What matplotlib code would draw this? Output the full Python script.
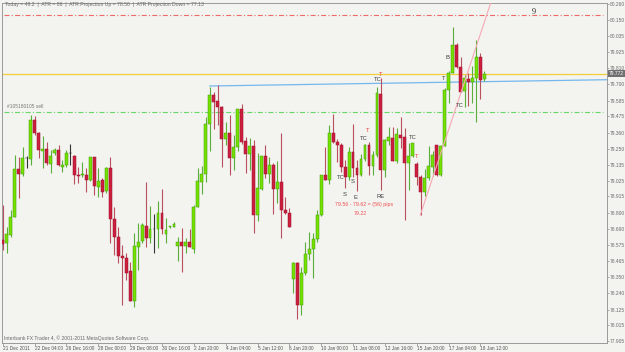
import matplotlib
matplotlib.use("Agg")
import matplotlib.pyplot as plt
from matplotlib.transforms import blended_transform_factory

# H4 candles (price units)
OPEN = [
    78.611, 78.590, 78.646, 78.772, 79.107, 79.072, 79.183, 79.176, 79.449, 79.358,
    79.232, 79.246, 79.141, 79.218, 79.239, 79.121, 79.135, 79.218, 79.197, 79.065,
    79.065, 79.065, 79.030, 79.190, 78.981, 79.030, 78.953, 79.114, 78.758, 78.632,
    78.499, 78.485, 78.394, 78.185, 78.562, 78.604, 78.709, 78.625, 78.688, 78.688,
    78.800, 78.653, 78.702, 78.702, 78.569, 78.597, 78.569, 78.597, 78.548, 78.841,
    79.016, 79.072, 79.421, 79.624, 79.582, 79.540, 79.316, 79.358, 79.183, 79.260,
    79.526, 79.302, 79.211, 79.267, 78.786, 78.967, 79.197, 79.072, 79.135, 78.967,
    79.016, 78.820, 78.800, 78.338, 78.450, 78.157, 78.380, 78.513, 78.548, 78.618,
    78.786, 79.065, 79.030, 79.358, 79.295, 79.274, 79.121, 79.051, 79.225, 79.114,
    79.065, 79.176, 79.274, 79.128, 79.204, 79.631, 79.100, 79.302, 79.323, 79.162,
    79.344, 79.330, 79.148, 79.197, 79.141, 79.051, 78.946, 79.044, 79.121, 79.274,
    79.065, 79.267, 79.659, 79.778, 79.974, 79.820, 79.652, 79.736, 79.715, 79.743,
    79.890, 79.736,
]
HIGH = [
    78.855, 78.702, 78.820, 79.204, 79.190, 79.260, 79.197, 79.484, 79.477, 79.365,
    79.337, 79.295, 79.239, 79.253, 79.274, 79.169, 79.239, 79.281, 79.204, 79.121,
    79.155, 79.114, 79.190, 79.190, 79.114, 79.044, 79.121, 79.190, 78.841, 78.702,
    78.576, 78.520, 78.457, 78.660, 78.730, 78.730, 79.016, 78.848, 78.793, 78.883,
    78.967, 78.765, 78.712, 78.737, 78.632, 78.695, 78.625, 78.688, 78.855, 79.114,
    79.128, 79.470, 79.680, 79.645, 79.694, 79.547, 79.435, 79.484, 79.344, 79.526,
    79.561, 79.330, 79.323, 79.309, 79.218, 79.197, 79.274, 79.190, 79.148, 79.162,
    79.358, 78.911, 78.834, 78.457, 78.457, 78.422, 78.597, 78.667, 78.660, 78.820,
    79.065, 79.260, 79.414, 79.491, 79.316, 79.288, 79.169, 79.260, 79.421, 79.169,
    79.211, 79.281, 79.295, 79.232, 79.680, 79.743, 79.316, 79.400, 79.400, 79.393,
    79.470, 79.393, 79.288, 79.288, 79.155, 79.065, 79.107, 79.267, 79.232, 79.274,
    79.274, 79.673, 79.792, 80.099, 79.988, 79.890, 79.764, 79.778, 79.827, 80.009,
    79.918, 79.792,
]
LOW = [
    78.541, 78.520, 78.632, 78.772, 78.904, 79.058, 79.114, 79.135, 79.344, 79.183,
    79.114, 79.135, 79.079, 79.204, 79.128, 79.086, 79.121, 79.135, 79.002, 79.009,
    79.051, 78.946, 79.023, 78.925, 78.911, 78.911, 78.939, 78.590, 78.506, 78.450,
    78.157, 78.331, 78.185, 78.143, 78.401, 78.590, 78.562, 78.590, 78.520, 78.555,
    78.653, 78.590, 78.695, 78.702, 78.464, 78.387, 78.520, 78.562, 78.520, 78.841,
    78.932, 79.016, 79.232, 79.386, 79.414, 79.121, 79.274, 79.065, 79.100, 79.232,
    79.281, 79.079, 79.100, 78.660, 78.744, 78.960, 79.044, 79.009, 78.793, 78.869,
    78.625, 78.793, 78.702, 78.241, 78.059, 78.087, 78.366, 78.471, 78.345, 78.597,
    78.779, 79.030, 79.002, 79.288, 79.155, 79.086, 78.974, 79.030, 79.051, 78.953,
    79.058, 79.162, 79.065, 79.065, 79.190, 78.960, 79.051, 79.274, 79.162, 79.148,
    79.253, 78.751, 78.960, 79.190, 78.995, 78.786, 78.918, 79.030, 79.058, 79.058,
    79.058, 79.267, 79.568, 79.778, 79.813, 79.645, 79.540, 79.547, 79.568, 79.435,
    79.596, 79.722,
]
CLOSE = [
    78.583, 78.653, 78.772, 79.107, 79.072, 79.183, 79.181, 79.449, 79.358, 79.239,
    79.246, 79.148, 79.197, 79.239, 79.135, 79.135, 79.218, 79.216, 79.065, 79.058,
    79.072, 79.030, 79.190, 78.988, 79.023, 78.946, 79.114, 78.758, 78.632, 78.499,
    78.485, 78.380, 78.185, 78.569, 78.597, 78.716, 78.625, 78.688, 78.686, 78.800,
    78.688, 78.681, 78.709, 78.723, 78.597, 78.569, 78.597, 78.562, 78.841, 79.023,
    79.072, 79.421, 79.624, 79.575, 79.540, 79.316, 79.358, 79.183, 79.260, 79.526,
    79.295, 79.211, 79.267, 78.786, 78.974, 79.197, 79.072, 79.135, 78.967, 79.016,
    78.820, 78.800, 78.702, 78.450, 78.157, 78.380, 78.513, 78.548, 78.618, 78.786,
    79.065, 79.030, 79.358, 79.295, 79.274, 79.121, 79.051, 79.225, 79.114, 79.065,
    79.176, 79.274, 79.128, 79.204, 79.638, 79.100, 79.309, 79.330, 79.162, 79.351,
    79.323, 79.148, 79.197, 79.288, 79.051, 78.946, 79.044, 79.128, 79.204, 79.065,
    79.267, 79.659, 79.778, 79.974, 79.820, 79.645, 79.743, 79.715, 79.743, 79.890,
    79.729, 79.772,
]

X_TICKS = [0, 8, 16, 24, 32, 40, 48, 56, 64, 72, 80, 88, 96, 104, 112, 120]
X_LABELS = [
    "21 Dec 2011", "22 Dec 04:00", "26 Dec 16:00", "28 Dec 00:00", "29 Dec 08:00",
    "30 Dec 16:00", "2 Jan 20:00", "4 Jan 04:00", "5 Jan 12:00", "6 Jan 20:00",
    "10 Jan 00:00", "11 Jan 08:00", "12 Jan 16:00", "15 Jan 20:00", "17 Jan 04:00",
    "18 Jan 12:00",
]
Y_TICKS = [
    80.260, 80.150, 80.035, 79.925, 79.810, 79.700, 79.585, 79.475, 79.360, 79.250,
    79.135, 79.025, 78.915, 78.800, 78.690, 78.575, 78.465, 78.350, 78.240, 78.125,
    78.015, 77.905,
]

LEVEL_RED = 80.183
LEVEL_BID = 79.772
LEVEL_SELL = 79.505
BLUE_X = [52, 152]
BLUE_Y = [79.687, 79.731]
PINK_X = [104.9, 123.0]
PINK_Y = [78.786, 80.302]

# (text, bar position, price, colour)
MARKS = [
    ("T", 94.9, 79.764, "#e8403c"),
    ("TC", 94.1, 79.729, "#3a3a3a"),
    ("T", 91.8, 79.373, "#e8403c"),
    ("TC", 90.8, 79.317, "#3a3a3a"),
    ("TC", 84.8, 79.051, "#3a3a3a"),
    ("S", 87.8, 79.023, "#3a3a3a"),
    ("S", 85.8, 78.932, "#3a3a3a"),
    ("E", 88.6, 78.911, "#3a3a3a"),
    ("RE", 94.9, 78.918, "#3a3a3a"),
    ("TC", 102.9, 79.324, "#3a3a3a"),
    ("T", 103.9, 79.191, "#e8403c"),
    ("T", 110.7, 79.736, "#3a3a3a"),
    ("B", 111.7, 79.883, "#3a3a3a"),
    ("TC", 114.9, 79.554, "#3a3a3a"),
]

BG = "#f3f3ef"
BULL, BULL_EDGE, BULL_WICK = "#76e000", "#3f9e00", "#5cae3a"
BEAR, BEAR_EDGE, BEAR_WICK = "#cc1f3d", "#9c1030", "#b8505e"
DOJI = "#333333"

plt.rcParams["lines.scale_dashes"] = False
plt.rcParams["font.family"] = ["Liberation Sans", "DejaVu Sans"]
fig = plt.figure(figsize=(6.25, 3.52), dpi=100, facecolor=BG)
ax = fig.add_axes([2 / 625, 9 / 352, 605 / 625, 340 / 352], facecolor=BG)

xs = list(range(len(OPEN)))
bottoms, heights, fills, edges, wicks = [], [], [], [], []
for o, c in zip(OPEN, CLOSE):
    bottoms.append(min(o, c))
    heights.append(max(abs(c - o), 0.005))
    if abs(c - o) < 0.003:
        fills.append(DOJI); edges.append(DOJI); wicks.append(DOJI)
    elif c > o:
        fills.append(BULL); edges.append(BULL_EDGE); wicks.append(BULL_WICK)
    else:
        fills.append(BEAR); edges.append(BEAR_EDGE); wicks.append(BEAR_WICK)

ax.vlines(xs, LOW, HIGH, colors=wicks, linewidth=0.8, zorder=2)
ax.bar(xs, heights, bottom=bottoms, width=0.72, color=fills,
       edgecolor=edges, linewidth=0.35, zorder=3)

dashdot = (0, (3.6, 1.6, 0.8, 1.6))
ax.axhline(LEVEL_RED, xmin=0.003, xmax=0.993, color="#ee6a6a", lw=0.8, ls=dashdot, zorder=1)
ax.axhline(LEVEL_SELL, xmin=0.003, xmax=0.993, color="#66d866", lw=0.8, ls=dashdot, zorder=1)
ax.axhline(LEVEL_BID, color="#f2cf3a", lw=0.9, zorder=1)
ax.plot(BLUE_X, BLUE_Y, color="#74b8ee", lw=0.9, zorder=1)
ax.plot(PINK_X, PINK_Y, color="#f7a8b4", lw=0.8, zorder=4)

for text, x, y, col in MARKS:
    ax.text(x, y, text, color=col, fontsize=4.2, ha="center", va="center", zorder=5)
ax.text(90.8, 78.862, "79.56 - 79.62 = (56) pips", color="#f05050", fontsize=3.8,
        ha="center", va="center", zorder=5)
ax.text(89.8, 78.793, "79.22", color="#f05050", fontsize=3.8, ha="center", va="center", zorder=5)
ax.text(133.3, 80.204, "9", color="#333333", fontsize=6, family="Liberation Serif",
        ha="center", va="center")

ax.text(0.005, 0.996, "Today = 49.2  |  ATR = 86  |  ATR Projection Up = 78.56  |  ATR Projection Down = 77.13",
        transform=ax.transAxes, fontsize=3.7, color="#6a6a6a", ha="left", va="center")
ax.text(1.0, LEVEL_SELL + 0.04, "#105180105 sell", fontsize=3.5, color="#7a7a7a",
        ha="left", va="center")
ax.text(0.003, 0.015, "Interbank FX Trader 4, \u00a9 2001-2011 MetaQuotes Software Corp.",
        transform=ax.transAxes, fontsize=3.6, color="#6a6a6a", ha="left", va="center")

trans = blended_transform_factory(ax.transAxes, ax.transData)
ax.text(1.003, LEVEL_BID, "79.772", transform=trans, fontsize=3.5, color="white",
        ha="left", va="center", zorder=6,
        bbox=dict(boxstyle="square,pad=0.2", fc="#707070", ec="none"))

ax.set_xlim(-0.2, 151.8)
ax.set_ylim(77.891, 80.267)
ax.yaxis.tick_right()
ax.set_yticks(Y_TICKS, [f"{v:.3f}" for v in Y_TICKS])
ax.set_xticks(X_TICKS, X_LABELS)
for lbl in ax.get_xticklabels():
    lbl.set_horizontalalignment("left")
ax.tick_params(axis="y", labelsize=3.5, labelcolor="#6a6a6a", length=1.5, width=0.5,
               color="#8a8a8a", pad=0.6)
ax.tick_params(axis="x", labelsize=3.4, labelcolor="#555555", length=2, width=0.5,
               color="#8a8a8a", pad=0.5)
for spine in ax.spines.values():
    spine.set_color("#9a9a9a")
    spine.set_linewidth(0.7)

fig.savefig("out.png", dpi=100, facecolor=BG)
